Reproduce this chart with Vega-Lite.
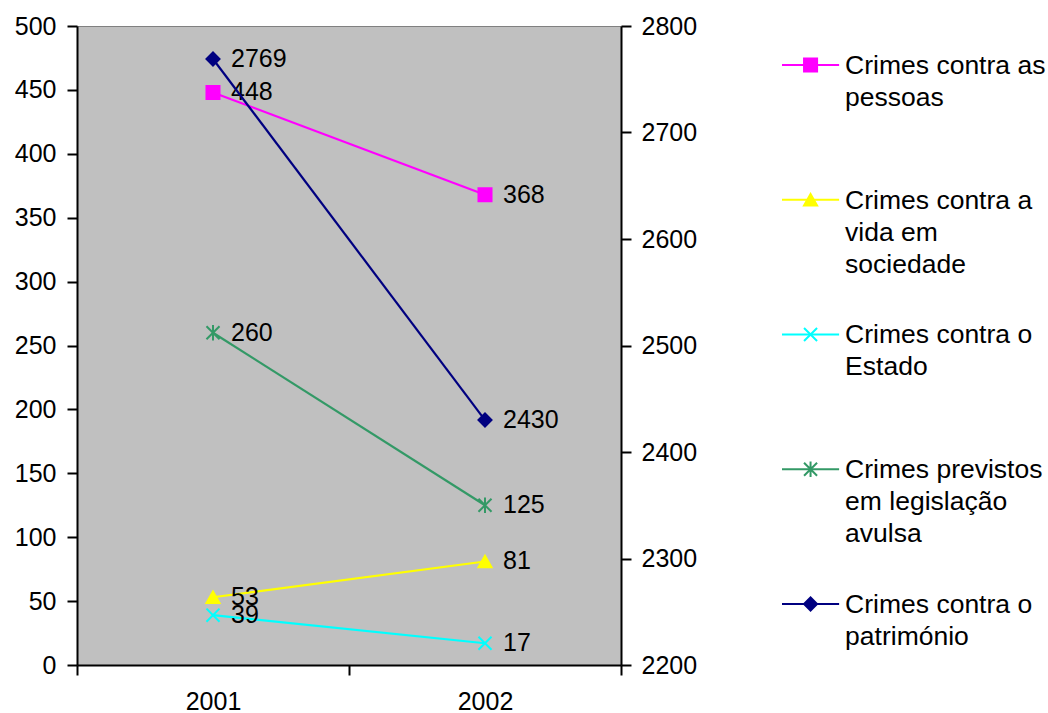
{
  "$schema": "https://vega.github.io/schema/vega-lite/v6.json",
  "padding": {"left": 13, "top": 13, "right": 0, "bottom": 0},
  "background": "white",
  "config": {
    "font": "Liberation Sans",
    "axis": {
      "labelFont": "Liberation Sans",
      "labelFontSize": 25,
      "labelColor": "black",
      "domainColor": "black",
      "domainWidth": 2,
      "tickColor": "black",
      "tickWidth": 2,
      "tickSize": 10,
      "grid": false,
      "title": null
    },
    "concat": {"spacing": 82}
  },
  "datasets": {
    "valores": [
      {"serie": "Crimes contra as pessoas", "ano": "2001", "valor": 448},
      {"serie": "Crimes contra as pessoas", "ano": "2002", "valor": 368},
      {"serie": "Crimes contra a vida em sociedade", "ano": "2001", "valor": 53},
      {"serie": "Crimes contra a vida em sociedade", "ano": "2002", "valor": 81},
      {"serie": "Crimes contra o Estado", "ano": "2001", "valor": 39},
      {"serie": "Crimes contra o Estado", "ano": "2002", "valor": 17},
      {"serie": "Crimes previstos em legislação avulsa", "ano": "2001", "valor": 260},
      {"serie": "Crimes previstos em legislação avulsa", "ano": "2002", "valor": 125},
      {"serie": "Crimes contra o património", "ano": "2001", "valor": 2769},
      {"serie": "Crimes contra o património", "ano": "2002", "valor": 2430}
    ],
    "series": [
      {"serie": "Crimes contra as pessoas", "ordem": 1, "legenda": "Crimes contra as\npessoas"},
      {"serie": "Crimes contra a vida em sociedade", "ordem": 2, "legenda": "Crimes contra a\nvida em\nsociedade"},
      {"serie": "Crimes contra o Estado", "ordem": 3, "legenda": "Crimes contra o\nEstado"},
      {"serie": "Crimes previstos em legislação avulsa", "ordem": 4, "legenda": "Crimes previstos\nem legislação\navulsa"},
      {"serie": "Crimes contra o património", "ordem": 5, "legenda": "Crimes contra o\npatrimónio"}
    ]
  },
  "hconcat": [
    {
      "width": 544,
      "height": 639,
      "data": {"name": "valores"},
      "view": {"fill": "#C0C0C0", "stroke": "#808080", "strokeWidth": 1},
      "encoding": {
        "x": {
          "field": "ano",
          "type": "ordinal",
          "scale": {"type": "band", "paddingInner": 0, "paddingOuter": 0},
          "axis": {"labelAngle": 0, "tickBand": "extent", "labelPadding": 14}
        },
        "color": {
          "field": "serie",
          "type": "nominal",
          "scale": {
            "domain": ["Crimes contra as pessoas", "Crimes contra a vida em sociedade", "Crimes contra o Estado", "Crimes previstos em legislação avulsa", "Crimes contra o património"],
            "range": ["#FF00FF", "#FFFF00", "#00FFFF", "#339966", "#000080"]
          },
          "legend": null
        }
      },
      "layer": [
        {
          "transform": [{"filter": "datum.serie !== 'Crimes contra o património'"}],
          "encoding": {
            "y": {
              "field": "valor",
              "type": "quantitative",
              "scale": {"domain": [0, 500], "nice": false, "zero": true},
              "axis": {"orient": "left", "values": [0, 50, 100, 150, 200, 250, 300, 350, 400, 450, 500], "format": "d", "labelPadding": 11}
            }
          },
          "layer": [
            {"mark": {"type": "line", "strokeWidth": 2.2}},
            {
              "mark": {"type": "point", "filled": true, "opacity": 1, "size": 170, "strokeWidth": 2},
              "encoding": {
                "shape": {
                  "field": "serie",
                  "type": "nominal",
                  "scale": {
                    "domain": ["Crimes contra as pessoas", "Crimes contra a vida em sociedade", "Crimes contra o Estado", "Crimes previstos em legislação avulsa", "Crimes contra o património"],
                    "range": ["square", "triangle-up", "M-1,-1L1,1M-1,1L1,-1", "M-1,-1L1,1M-1,1L1,-1M0,-1.2L0,1.2", "diamond"]
                  },
                  "legend": null
                },
                "stroke": {
                  "field": "serie",
                  "type": "nominal",
                  "scale": {
                    "domain": ["Crimes contra as pessoas", "Crimes contra a vida em sociedade", "Crimes contra o Estado", "Crimes previstos em legislação avulsa", "Crimes contra o património"],
                    "range": ["#FF00FF", "#FFFF00", "#00FFFF", "#339966", "#000080"]
                  },
                  "legend": null
                }
              }
            },
            {
              "mark": {"type": "text", "align": "left", "baseline": "middle", "dx": 18, "fontSize": 25, "font": "Liberation Sans"},
              "encoding": {"text": {"field": "valor", "type": "quantitative", "format": "d"}, "color": {"value": "black"}}
            }
          ]
        },
        {
          "transform": [{"filter": "datum.serie === 'Crimes contra o património'"}],
          "encoding": {
            "y": {
              "field": "valor",
              "type": "quantitative",
              "scale": {"domain": [2200, 2800], "nice": false, "zero": false},
              "axis": {"orient": "right", "values": [2200, 2300, 2400, 2500, 2600, 2700, 2800], "format": "d", "labelPadding": 10}
            }
          },
          "layer": [
            {"mark": {"type": "line", "strokeWidth": 2.2}},
            {
              "mark": {"type": "point", "filled": true, "opacity": 1, "size": 170, "strokeWidth": 2, "shape": "diamond"},
              "encoding": {"stroke": {"value": "#000080"}}
            },
            {
              "mark": {"type": "text", "align": "left", "baseline": "middle", "dx": 18, "fontSize": 25, "font": "Liberation Sans"},
              "encoding": {"text": {"field": "valor", "type": "quantitative", "format": "d"}, "color": {"value": "black"}}
            }
          ]
        }
      ],
      "resolve": {"scale": {"y": "independent"}}
    },
    {
      "width": 262,
      "height": 639,
      "data": {"name": "series"},
      "view": {"stroke": null, "fill": null},
      "encoding": {
        "y": {
          "field": "ordem",
          "type": "quantitative",
          "scale": {"domain": [0.7106, 5.4527], "reverse": true, "nice": false, "zero": false},
          "axis": null
        },
        "color": {
          "field": "serie",
          "type": "nominal",
          "scale": {
            "domain": ["Crimes contra as pessoas", "Crimes contra a vida em sociedade", "Crimes contra o Estado", "Crimes previstos em legislação avulsa", "Crimes contra o património"],
            "range": ["#FF00FF", "#FFFF00", "#00FFFF", "#339966", "#000080"]
          },
          "legend": null
        }
      },
      "layer": [
        {
          "mark": {"type": "rule", "strokeWidth": 2.2},
          "encoding": {
            "x": {"datum": 0, "type": "quantitative", "scale": {"domain": [0, 1], "nice": false, "zero": false}, "axis": null},
            "x2": {"datum": 0.218}
          }
        },
        {
          "mark": {"type": "point", "filled": true, "opacity": 1, "size": 170, "strokeWidth": 2},
          "encoding": {
            "x": {"datum": 0.109, "type": "quantitative"},
            "shape": {
              "field": "serie",
              "type": "nominal",
              "scale": {
                "domain": ["Crimes contra as pessoas", "Crimes contra a vida em sociedade", "Crimes contra o Estado", "Crimes previstos em legislação avulsa", "Crimes contra o património"],
                "range": ["square", "triangle-up", "M-1,-1L1,1M-1,1L1,-1", "M-1,-1L1,1M-1,1L1,-1M0,-1.2L0,1.2", "diamond"]
              },
              "legend": null
            },
            "stroke": {
              "field": "serie",
              "type": "nominal",
              "scale": {
                "domain": ["Crimes contra as pessoas", "Crimes contra a vida em sociedade", "Crimes contra o Estado", "Crimes previstos em legislação avulsa", "Crimes contra o património"],
                "range": ["#FF00FF", "#FFFF00", "#00FFFF", "#339966", "#000080"]
              },
              "legend": null
            }
          }
        },
        {
          "mark": {"type": "text", "align": "left", "baseline": "alphabetic", "dx": 6, "dy": 9, "fontSize": 26.5, "lineHeight": 32, "lineBreak": "\n", "font": "Liberation Sans"},
          "encoding": {
            "x": {"datum": 0.218, "type": "quantitative"},
            "text": {"field": "legenda", "type": "nominal"},
            "color": {"value": "black"}
          }
        }
      ]
    }
  ]
}
